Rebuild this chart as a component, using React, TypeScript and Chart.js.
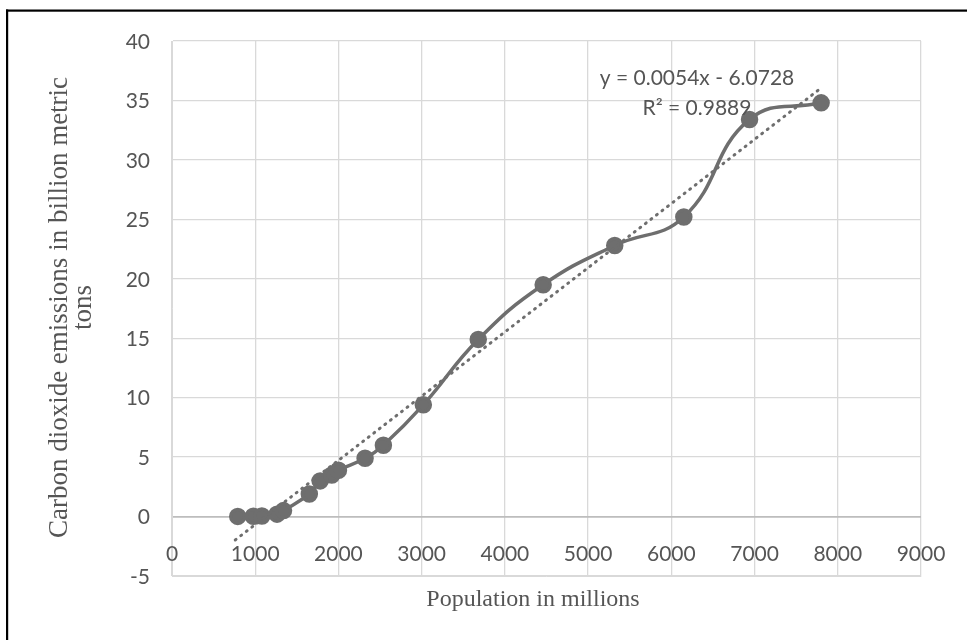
import React, { useEffect, useRef } from "react";
import { Chart, registerables } from "chart.js";

Chart.register(...registerables);

// Population (millions) vs CO2 emissions (billion metric tons)
const populationMillions = [790, 978, 1080, 1262, 1340, 1650, 1780, 1920, 2000, 2320, 2540, 3020, 3680, 4460, 5320, 6150, 6940, 7800];
const co2Billions = [0.01, 0.03, 0.05, 0.2, 0.5, 1.9, 3.0, 3.5, 3.9, 4.9, 6.0, 9.4, 14.9, 19.5, 22.8, 25.2, 33.4, 34.8];

// Linear trendline as reported on the chart
const trendSlope = 0.0054;
const trendIntercept = -6.0728;
const trendXRange = [760, 7800];
const equationText = "y = 0.0054x - 6.0728";
const r2Text = "R² = 0.9889";

const xTicks = [0, 1000, 2000, 3000, 4000, 5000, 6000, 7000, 8000, 9000];
const yTicks = [-5, 0, 5, 10, 15, 20, 25, 30, 35, 40];

const xTitle = "Population in millions";
const yTitleLines = ["Carbon dioxide emissions in billion metric", "tons"];

const TEXT = "#555555";
const MARK = "#6e6e6e";

export default function App() {
  const ref = useRef<HTMLCanvasElement | null>(null);

  useEffect(() => {
    if (!ref.current) return;
    const labelsPlugin = {
      id: "labelsPlugin",
      afterDraw(chart: any) {
        const ctx = chart.ctx;
        const xs = chart.scales.x;
        const ys = chart.scales.y;
        ctx.save();
        // frame
        ctx.fillStyle = "#000";
        ctx.fillRect(6, 9.5, 2.2, 640);
        ctx.fillRect(6, 9.5, 967, 2.2);
        // tick labels
        ctx.fillStyle = TEXT;
        ctx.font = "21px Lato";
        ctx.textBaseline = "middle";
        ctx.textAlign = "right";
        yTicks.forEach((v) => {
          ctx.fillText(String(v), xs.left - 22, ys.getPixelForValue(v) + 1);
        });
        ctx.textAlign = "center";
        const y0 = ys.getPixelForValue(0);
        xTicks.forEach((v) => {
          ctx.fillText(String(v), xs.getPixelForValue(v), y0 + 38);
        });
        // equation
        ctx.font = "21px Lato";
        ctx.fillText(equationText, 697, 78);
        ctx.fillText(r2Text, 697, 108);
        // axis titles
        ctx.font = "24px 'Liberation Serif'";
        ctx.fillText(xTitle, 533, 600);
        ctx.font = "27px 'Liberation Serif'";
        ctx.save();
        ctx.translate(60, (ys.top + ys.bottom) / 2 - 1);
        ctx.rotate(-Math.PI / 2);
        ctx.fillText(yTitleLines[0], 0, 0);
        ctx.fillText(yTitleLines[1], 0, 24);
        ctx.restore();
        ctx.restore();
      },
    };

    const chart = new Chart(ref.current, {
      type: "scatter",
      data: {
        datasets: [
          {
            label: "Trend",
            data: trendXRange.map((x) => ({ x, y: trendSlope * x + trendIntercept })),
            showLine: true,
            borderColor: MARK,
            borderWidth: 3,
            borderDash: [1, 6],
            borderCapStyle: "round",
            pointRadius: 0,
            order: 1,
          },
          {
            label: "CO2",
            data: populationMillions.map((x, i) => ({ x, y: co2Billions[i] })),
            showLine: true,
            tension: 0.45,
            borderColor: MARK,
            borderWidth: 3.5,
            backgroundColor: MARK,
            pointBackgroundColor: MARK,
            pointBorderColor: MARK,
            pointRadius: 7,
            order: 2,
          },
        ],
      },
      options: {
        animation: false,
        responsive: false,
        layout: { padding: { left: 172, right: 46, top: 41, bottom: 64 } },
        plugins: { legend: { display: false }, tooltip: { enabled: false } },
        scales: {
          x: {
            type: "linear",
            min: 0,
            max: 9000,
            ticks: { display: false, stepSize: 1000 },
            grid: { color: "#d9d9d9", drawTicks: false, lineWidth: 1.3 },
            border: { display: true, color: "#d9d9d9" },
          },
          y: {
            type: "linear",
            min: -5,
            max: 40,
            ticks: { display: false, stepSize: 5 },
            grid: {
              color: (c: any) => (c.tick && c.tick.value === 0 ? "#bdbdbd" : "#d9d9d9"),
              lineWidth: (c: any) => (c.tick && c.tick.value === 0 ? 1.8 : 1.3),
              drawTicks: false,
            },
            border: { display: true, color: "#d9d9d9" },
          },
        },
      },
      plugins: [labelsPlugin],
    });
    return () => chart.destroy();
  }, []);

  return (
    <div style={{ position: "absolute", left: 0, top: 0, width: 967, height: 640, background: "#fff" }}>
      <canvas ref={ref} width={967} height={640} style={{ display: "block" }} />
    </div>
  );
}
